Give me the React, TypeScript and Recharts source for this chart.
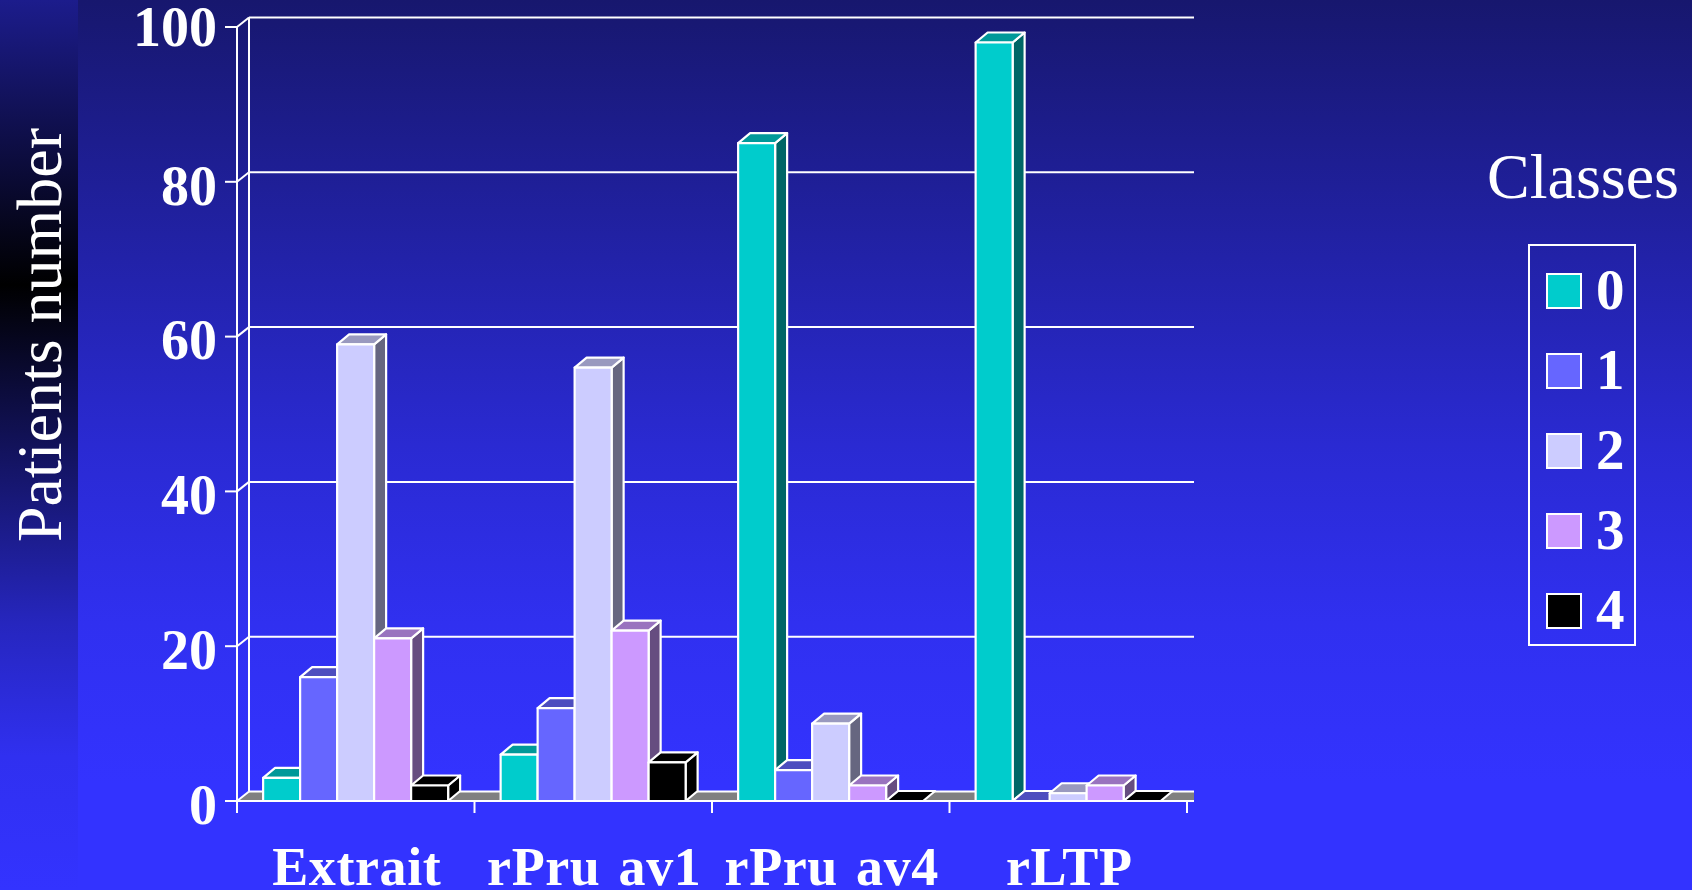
import { Bar, BarChart, CartesianGrid, Label, Legend, XAxis, YAxis } from 'recharts'

const categories = ['Extrait', 'rPru av1', 'rPru av4', 'rLTP']
const class0 = [3, 6, 85, 98]
const class1 = [16, 12, 4, 0]
const class2 = [59, 56, 10, 1]
const class3 = [21, 22, 2, 2]
const class4 = [2, 5, 0, 0]
const yTicks = [0, 20, 40, 60, 80, 100]

const WIDTH = 1692
const HEIGHT = 890
const PLOT_LEFT = 237
const PLOT_TOP = 27
const PLOT_BOTTOM = 801
const PLOT_RIGHT = 1194
const AXIS_PAD_RIGHT = 7
const DEPTH_X = 12
const DEPTH_Y = 10
const WALL_DEPTH_Y = 9.5
const BAND = (PLOT_RIGHT - AXIS_PAD_RIGHT - PLOT_LEFT) / categories.length
const SERIF = '"Liberation Serif", serif'

const series = [
  { key: 'c0', name: '0', values: class0, front: '#00cccc', top: '#009999', side: '#006666' },
  { key: 'c1', name: '1', values: class1, front: '#6666ff', top: '#4d4dbf', side: '#333380' },
  { key: 'c2', name: '2', values: class2, front: '#ccccff', top: '#9999bf', side: '#666680' },
  { key: 'c3', name: '3', values: class3, front: '#cc99ff', top: '#9973bf', side: '#664d80' },
  { key: 'c4', name: '4', values: class4, front: '#000000', top: '#000000', side: '#000000' },
]

const rows = categories.map((name, i) => {
  const row: Record<string, string | number> = { name }
  series.forEach((s) => {
    row[s.key] = s.values[i]
  })
  return row
})

// front face, lid and right side of one extruded bar
const Box = ({ x, y, width, height, front, top, side }: any) => {
  const right = x + width
  const bottom = y + height
  return (
    <g stroke="#fff" strokeWidth={2.2} strokeLinejoin="round">
      {height > 0 && (
        <path
          d={`M${right},${bottom} L${right + DEPTH_X},${bottom - DEPTH_Y} L${right + DEPTH_X},${y - DEPTH_Y} L${right},${y} Z`}
          fill={side}
        />
      )}
      <path
        d={`M${x},${y} L${x + DEPTH_X},${y - DEPTH_Y} L${right + DEPTH_X},${y - DEPTH_Y} L${right},${y} Z`}
        fill={top}
      />
      {height > 0 && <rect x={x} y={y} width={width} height={height} fill={front} />}
    </g>
  )
}

// each grid line sits on the back wall, with a stub back to the front axis
const WallLine = ({ x1, x2, y1 }: any) => {
  const isFloor = Math.abs(y1 - PLOT_BOTTOM) < 1
  return (
    <g stroke="#fff" strokeWidth={2}>
      {isFloor && (
        <>
          <path
            d={`M${x1},${y1} L${x1 + DEPTH_X},${y1 - WALL_DEPTH_Y} L${x2},${y1 - WALL_DEPTH_Y} L${x2},${y1} Z`}
            fill="#808080"
            stroke="none"
          />
          <line x1={x1 + DEPTH_X} x2={x1 + DEPTH_X} y1={y1 - WALL_DEPTH_Y} y2={PLOT_TOP - WALL_DEPTH_Y} />
        </>
      )}
      <line x1={x1} y1={y1} x2={x1 + DEPTH_X} y2={y1 - WALL_DEPTH_Y} />
      <line x1={x1 + DEPTH_X} y1={y1 - WALL_DEPTH_Y} x2={x2} y2={y1 - WALL_DEPTH_Y} />
    </g>
  )
}

const CategoryTick = ({ x, payload, index }: any) => (
  <g>
    <line x1={x - BAND / 2} x2={x - BAND / 2} y1={PLOT_BOTTOM} y2={PLOT_BOTTOM + 12} stroke="#fff" strokeWidth={2} />
    {index === categories.length - 1 && (
      <line x1={x + BAND / 2} x2={x + BAND / 2} y1={PLOT_BOTTOM} y2={PLOT_BOTTOM + 12} stroke="#fff" strokeWidth={2} />
    )}
    <text
      x={x + 1}
      y={885}
      textAnchor="middle"
      fill="#fff"
      fontFamily={SERIF}
      fontWeight="bold"
      fontSize={54}
      letterSpacing={0.6}
      wordSpacing={4}
    >
      {payload.value}
    </text>
  </g>
)

// the top label sits a little higher than the others
const ValueTick = ({ x, y, payload }: any) => (
  <text
    x={x}
    y={y + (payload.value === 100 ? -1 : 3)}
    dy="0.355em"
    textAnchor="end"
    fill="#fff"
    fontFamily={SERIF}
    fontWeight="bold"
    fontSize={56}
  >
    {payload.value}
  </text>
)

const ClassLegend = ({ payload }: any) => (
  <div style={{ position: 'relative', width: 210, height: 520, color: '#fff', fontFamily: SERIF }}>
    <div style={{ position: 'absolute', left: 0, top: -11, fontSize: 64, lineHeight: '74px' }}>Classes</div>
    <div
      style={{
        position: 'absolute',
        left: 41,
        top: 93,
        width: 104,
        height: 398,
        border: '2px solid #fff',
      }}
    />
    {payload.map((entry: any, i: number) => (
      <div key={entry.value} style={{ position: 'absolute', left: 59, top: 122 + i * 80, height: 34 }}>
        <div
          style={{
            position: 'absolute',
            left: 0,
            top: 0,
            width: 32,
            height: 32,
            background: entry.color,
            border: '2px solid #fff',
          }}
        />
        <div
          style={{
            position: 'absolute',
            left: 50,
            top: -15,
            fontSize: 57,
            fontWeight: 'bold',
            lineHeight: '64px',
          }}
        >
          {entry.value}
        </div>
      </div>
    ))}
  </div>
)

export default function App() {
  return (
    <div
      style={{
        position: 'absolute',
        left: 0,
        top: 0,
        width: WIDTH,
        height: HEIGHT,
        overflow: 'hidden',
        background: 'linear-gradient(180deg, #17176e 0%, #2a2ad2 50%, #3030f0 70%, #3333ff 88%)',
      }}
    >
      <div
        style={{
          position: 'absolute',
          left: 0,
          top: 0,
          width: 78,
          height: HEIGHT,
          background: 'linear-gradient(180deg, #1c1c8c 0%, #000000 32%, #2626be 70%, #3030f0 85%, #3333ff 100%)',
        }}
      />
      <BarChart
        width={WIDTH}
        height={HEIGHT}
        data={rows}
        margin={{ top: PLOT_TOP, right: WIDTH - PLOT_RIGHT, bottom: 0, left: 0 }}
        barCategoryGap="11%"
        barGap={0}
        style={{ position: 'absolute', left: 0, top: 0 }}
      >
        <CartesianGrid vertical={false} horizontal={(props: any) => <WallLine key={props.key} {...props} />} />
        <XAxis
          dataKey="name"
          height={HEIGHT - PLOT_BOTTOM}
          padding={{ left: 0, right: AXIS_PAD_RIGHT }}
          axisLine={{ stroke: '#fff', strokeWidth: 2 }}
          tickLine={false}
          tick={<CategoryTick />}
          interval={0}
        />
        <YAxis
          width={PLOT_LEFT}
          domain={[0, 100]}
          ticks={yTicks}
          axisLine={{ stroke: '#fff', strokeWidth: 2 }}
          tickLine={{ stroke: '#fff', strokeWidth: 2 }}
          tickSize={12}
          tickMargin={8}
          tick={<ValueTick />}
        >
          <Label
            content={() => (
              <text
                transform="translate(61,335) rotate(-90)"
                textAnchor="middle"
                fill="#fff"
                fontFamily={SERIF}
                fontSize={64}
              >
                Patients number
              </text>
            )}
          />
        </YAxis>
        <Legend
          layout="vertical"
          align="center"
          verticalAlign="middle"
          wrapperStyle={{ left: 1487, top: 151, width: 210, height: 520 }}
          content={<ClassLegend />}
        />
        {series.map((s) => (
          <Bar
            key={s.key}
            dataKey={s.key}
            name={s.name}
            fill={s.front}
            isAnimationActive={false}
            shape={(props: any) => <Box {...props} front={s.front} top={s.top} side={s.side} />}
          />
        ))}
      </BarChart>
    </div>
  )
}
